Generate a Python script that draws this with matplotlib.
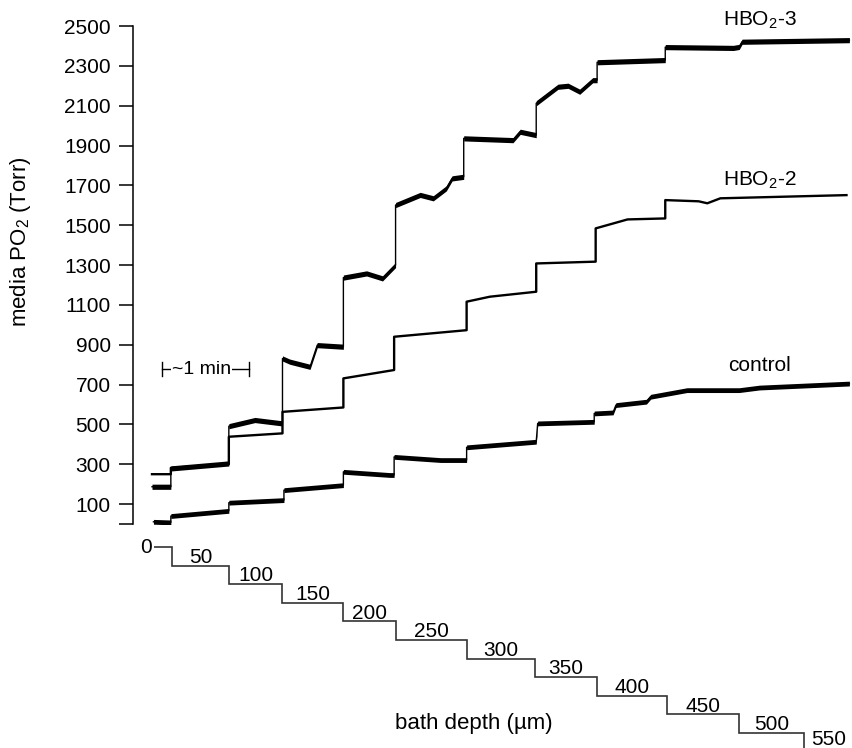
import numpy as np
import matplotlib.pyplot as plt

plt.rcParams['font.family'] = ['Liberation Sans', 'DejaVu Sans']
plt.rcParams['mathtext.fontset'] = 'custom'
plt.rcParams['mathtext.rm'] = 'Liberation Sans'

# time (s) from start of recording, media PO2 (Torr); a repeated time marks a step
hbo3_t = [0, 13, 13, 53, 53, 71, 90, 90, 95, 109, 114, 132, 132, 148, 159, 168, 168, 185, 194,
          203, 207, 215, 215, 249, 254, 265, 265, 280, 287, 295, 304, 307, 307, 354, 354, 401,
          405, 407, 481]
hbo3_v = [187, 187, 279, 304, 491, 522, 505, 831, 815, 789, 898, 890, 1237, 1258, 1233, 1300, 1601,
          1652, 1635, 1685, 1735, 1743, 1936, 1927, 1969, 1952, 2112, 2195, 2200, 2170, 2228, 2228,
          2318, 2329, 2394, 2390, 2395, 2421, 2429]

hbo2_t = [0, 13, 13, 53, 53, 90, 90, 132, 132, 167, 167, 217, 217, 233, 265, 265, 306, 306, 328,
          354, 354, 377, 383, 392, 479]
hbo2_v = [250, 250, 282, 300, 438, 455, 563, 585, 731, 773, 940, 973, 1116, 1141, 1166, 1308, 1317,
          1484, 1529, 1534, 1626, 1620, 1610, 1635, 1651]

ctrl_t = [1, 13, 13, 53, 53, 91, 91, 132, 132, 164, 167, 167, 199, 217, 217, 265, 266, 305, 305,
          318, 320, 341, 344, 369, 405, 419, 481]
ctrl_v = [11, 8, 40, 66, 107, 120, 170, 195, 262, 246, 246, 337, 321, 321, 385, 413, 505, 513, 555,
          560, 597, 614, 639, 672, 672, 685, 705]

# bath depth staircase
depth_um = [0, 50, 100, 150, 200, 250, 300, 350, 400, 450, 500, 550]
depth_edges = [1.4, 14, 53, 90, 132, 168, 217, 264, 307, 355, 405, 450, 520]

yticks = [0, 100, 300, 500, 700, 900, 1100, 1300, 1500, 1700, 1900, 2100, 2300, 2500]
yticklabels = [''] + [str(v) for v in yticks[1:]]

fig = plt.figure(figsize=(8.52, 7.48), dpi=100)
ax = fig.add_axes([133 / 852, 1 - 524 / 748, 719 / 852, 498 / 748])
ax2 = fig.add_axes([133 / 852, 0, 719 / 852, 218 / 748], sharex=ax)

# noisy traces: thick band for the baseline, thin line for the jumps
for t, v, hw in [(hbo3_t, hbo3_v, 13), (ctrl_t, ctrl_v, 12)]:
    t = np.array(t, dtype=float)
    v = np.array(v, dtype=float)
    ax.fill_between(t, v - hw, v + hw, color='black', lw=0)
    ax.plot(t, v, color='black', lw=1.0)
ax.plot(hbo2_t, hbo2_v, color='black', lw=1.7)

ax.set_xlim(-13.1, 482.8)
ax.set_ylim(0, 2500)
ax.set_yticks(yticks)
ax.set_yticklabels(yticklabels)
ax.tick_params(axis='y', direction='out', length=10, width=1.1, pad=6, labelsize=15)
ax.tick_params(axis='x', bottom=False, labelbottom=False)
for s in ['top', 'right', 'bottom']:
    ax.spines[s].set_visible(False)
ax.spines['left'].set_linewidth(1.1)

ax.text(419, 2527, 'HBO$_\\mathregular{2}$-3', ha='center', va='center', fontsize=15)
ax.text(419, 1726, 'HBO$_\\mathregular{2}$-2', ha='center', va='center', fontsize=15)
ax.text(419, 798, 'control', ha='center', va='center', fontsize=15)

# ~1 min scale bar
ax.plot([7, 67], [778, 778], color='black', lw=1.0)
ax.plot([7, 7], [741, 815], color='black', lw=1.0)
ax.plot([67, 67], [741, 815], color='black', lw=1.0)
ax.text(34, 778, '~1 min', ha='center', va='center', fontsize=14,
        bbox=dict(facecolor='white', edgecolor='none', pad=0.5))

fig.text(21 / 852, 1 - 242 / 748, 'media PO$_\\mathregular{2}$ (Torr)', rotation=90,
         ha='center', va='center', fontsize=16)

# depth staircase
ax2.stairs(depth_um, depth_edges, baseline=None, color='#333333', lw=1.2)
ax2.set_ylim(540.3, -45.7)
ax2.axis('off')
for i, d in enumerate(depth_um):
    if i == 0:
        ax2.annotate(str(d), (depth_edges[0], d), xytext=(-1.5, 0), textcoords='offset points',
                     ha='right', va='center', fontsize=15)
    elif i == len(depth_um) - 1:
        ax2.annotate(str(d), (depth_edges[i], d), xytext=(5, 5), textcoords='offset points',
                     ha='left', va='baseline', fontsize=15, annotation_clip=False)
    else:
        mid = (depth_edges[i] + depth_edges[i + 1]) / 2
        ax2.annotate(str(d), (mid, d), xytext=(0, 2), textcoords='offset points',
                     ha='center', va='baseline', fontsize=15)

fig.text(474 / 852, 1 - 724 / 748, 'bath depth (\u00b5m)', ha='center', va='center', fontsize=16)

fig.savefig('out.png', dpi=100)
